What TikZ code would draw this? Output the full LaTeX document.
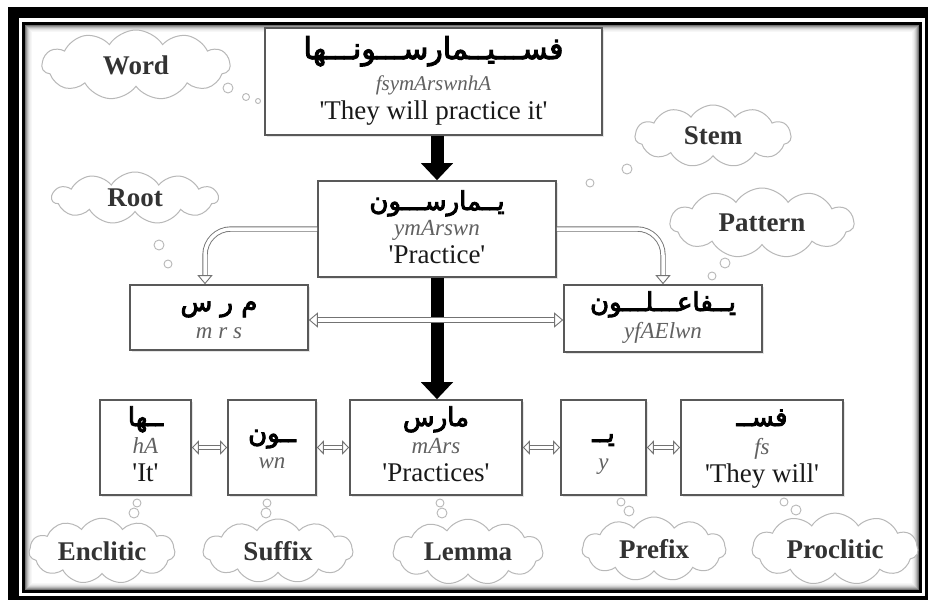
\documentclass[tikz,border=0pt]{standalone}
\usepackage{fontspec}
\setmainfont{Liberation Serif}
\newfontfamily\arabicfont[Script=Arabic,FakeBold=3.5]{DejaVu Sans}
\TeXXeTstate=1
\usetikzlibrary{arrows.meta,shapes.symbols,shadows}
\newcommand{\rtltext}[1]{\beginR #1\endR}
\newcommand{\q}{\textquotesingle}
\tikzset{
  hollowtip/.tip={Triangle[open, length=9pt, width=15pt]},
  smalltip/.tip={Triangle[open, length=7pt, width=14pt]}
}

\begin{document}
\begin{tikzpicture}[x=1pt,y=-1pt,
  box/.style={draw=black!65, line width=1.6pt, fill=white, inner sep=0pt,
    drop shadow={shadow xshift=1.5pt, shadow yshift=-1.5pt, opacity=0.2}},
  arabic/.style={font=\arabicfont\fontsize{26}{28}\selectfont, text=black,
    inner sep=0pt, text height=15pt, text depth=3pt},
  translit/.style={font=\itshape\fontsize{23}{25}\selectfont, text=black!62,
    inner sep=0pt, text height=9pt, text depth=2pt},
  gloss/.style={font=\fontsize{27}{29}\selectfont, text=black!90,
    inner sep=0pt, text height=13pt, text depth=3pt},
  thought/.style={cloud, cloud puffs=11, cloud puff arc=115, aspect=2.6,
    draw=black!28, line width=1pt, fill=white, inner sep=0pt,
    font=\bfseries\fontsize{27}{29}\selectfont, text=black!80},
  bubble/.style={draw=black!28, line width=0.9pt},
  bigarrow/.style={black, line width=13pt, -{Triangle[length=17pt,width=31pt]}},
  hollow/.style={draw=black!55, line width=0.9pt, double=white, double distance=3.5pt}
]
\useasboundingbox (0,0) rectangle (928,600);

% page frame
\fill[black] (8,7) rectangle (928,600);
\fill[white] (19,18) rectangle (925,596);
\foreach \i/\o in {0/55,1/40,2/28,3/18,4/11,5/6,6/3}
  \draw[black!\o, line width=1pt] (25.5+\i,25.5+\i) rectangle (918.5-\i,589.5-\i);
\draw[black, line width=3pt] (23.5,23.5) rectangle (920.5,591);

% thought clouds
\node[thought, minimum width=188pt, minimum height=70pt] (cWord) at (136,65) {Word};
\node[thought, minimum width=166pt, minimum height=52pt] (cRoot) at (135,198) {Root};
\node[thought, minimum width=156pt, minimum height=62pt] (cStem) at (713,136) {Stem};
\node[thought, minimum width=184pt, minimum height=70pt] (cPattern) at (762,223) {Pattern};
\node[thought, minimum width=146pt, minimum height=64pt] (cEncl) at (102,551) {Enclitic};
\node[thought, minimum width=150pt, minimum height=64pt] (cSuff) at (278,551) {Suffix};
\node[thought, minimum width=150pt, minimum height=64pt] (cLemma) at (468,552) {Lemma};
\node[thought, minimum width=144pt, minimum height=64pt] (cPref) at (654,549) {Prefix};
\node[thought, minimum width=166pt, minimum height=64pt] (cProcl) at (835,549) {Proclitic};

% thought bubbles
\draw[bubble] (228,88) circle (5pt) (246,97) circle (3.5pt) (258,101) circle (2.5pt);
\draw[bubble] (159,245) circle (5pt) (168,264) circle (4pt);
\draw[bubble] (627,169) circle (5pt) (590,183) circle (4pt);
\draw[bubble] (725,263) circle (5pt) (712,276) circle (4pt);
\draw[bubble] (137,503) circle (4pt) (134,513) circle (5pt);
\draw[bubble] (267,503) circle (4pt) (266,513) circle (5pt);
\draw[bubble] (440,503) circle (4pt) (442,513) circle (5pt);
\draw[bubble] (621,502) circle (4pt) (629,511) circle (5pt);
\draw[bubble] (784,502) circle (4pt) (796,510) circle (5pt);

% boxes
\node[box, minimum width=337pt, minimum height=107pt] (word) at (433.5,81.5) {};
\node[box, minimum width=238pt, minimum height=96pt] (stem) at (437,229) {};
\node[box, minimum width=178pt, minimum height=65pt] (root) at (219,317.5) {};
\node[box, minimum width=198pt, minimum height=67pt] (pattern) at (663,318.5) {};
\node[box, minimum width=91pt, minimum height=95pt] (encl) at (145.5,447.5) {};
\node[box, minimum width=88pt, minimum height=95pt] (suff) at (272,447.5) {};
\node[box, minimum width=172pt, minimum height=95pt] (lemma) at (436,447.5) {};
\node[box, minimum width=85pt, minimum height=95pt] (pref) at (603.5,447.5) {};
\node[box, minimum width=162pt, minimum height=95pt] (procl) at (762,447.5) {};

% box texts
\node[arabic, font=\arabicfont\fontsize{30}{32}\selectfont] (wordA) at (433.5,53) {\rtltext{فســـيــمارســـونـــها}};
\node[translit, font=\itshape\fontsize{21}{23}\selectfont] (wordT) at (433.5,87) {fsymArswnhA};
\node[gloss] (wordG) at (433.5,114) {\q They will practice it\q};

\node[arabic] (stemA) at (437,204) {\rtltext{يــمارســـون}};
\node[translit] (stemT) at (437,232) {ymArswn};
\node[gloss] (stemG) at (437,258) {\q Practice\q};

\node[arabic] (rootA) at (219,305) {\rtltext{م ر س}};
\node[translit] (rootT) at (219,335) {m r s};

\node[arabic] (patternA) at (663,305) {\rtltext{يــفاعـــلـــون}};
\node[translit] (patternT) at (663,335) {yfAElwn};

\node[arabic] (enclA) at (145.5,420) {\rtltext{ــها}};
\node[translit] (enclT) at (145.5,450) {hA};
\node[gloss] (enclG) at (145.5,476) {\q It\q};

\node[arabic] (suffA) at (272,436) {\rtltext{ــون}};
\node[translit] (suffT) at (272,465) {wn};

\node[arabic] (lemmaA) at (436,420) {\rtltext{مارس}};
\node[translit] (lemmaT) at (436,450) {mArs};
\node[gloss] (lemmaG) at (436,476) {\q Practices\q};

\node[arabic] (prefA) at (603.5,436) {\rtltext{يــ}};
\node[translit] (prefT) at (603.5,466) {y};

\node[arabic] (proclA) at (762,420) {\rtltext{فســ}};
\node[translit] (proclT) at (762,451) {fs};
\node[gloss] (proclG) at (762,477) {\q They will\q};

% connectors
\draw[bigarrow] (stem.north |- word.south) -- (stem.north);
\draw[bigarrow] (stem.south) -- (stem.south |- lemma.north);

\draw[hollow, rounded corners=26pt, -hollowtip] (stem.west) -| ([xshift=-14pt]root.north);
\draw[hollow, rounded corners=26pt, -hollowtip] (stem.east) -| (pattern.north);
\draw[hollow, hollowtip-hollowtip] ([yshift=-2.5pt]root.east) -- ([yshift=-2.5pt]root.east -| pattern.west);

\draw[hollow, smalltip-smalltip] (encl.east) -- (suff.west);
\draw[hollow, smalltip-smalltip] (suff.east) -- (lemma.west);
\draw[hollow, smalltip-smalltip] (lemma.east) -- (pref.west);
\draw[hollow, smalltip-smalltip] (pref.east) -- (procl.west);
\end{tikzpicture}
\end{document}
